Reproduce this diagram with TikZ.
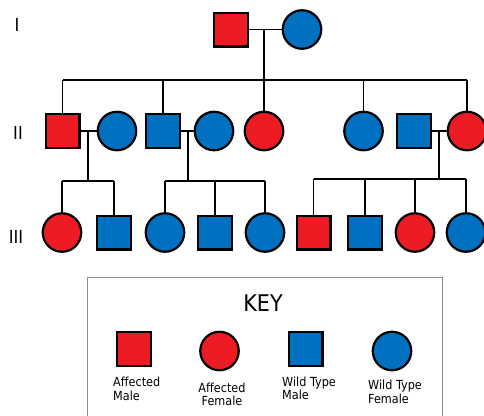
\documentclass[tikz,border=0pt]{standalone}
\usepackage{fontspec}
\setmainfont{DejaVu Sans}[FakeStretch=0.9]
\definecolor{affred}{RGB}{237,28,36}
\definecolor{wtblue}{RGB}{0,112,192}
\definecolor{keygray}{RGB}{140,140,140}
\begin{document}
\begin{tikzpicture}[x=1pt,y=-1pt,
  male/.style={rectangle,draw=black,line width=2.2pt,minimum size=33.8pt,inner sep=0pt},
  female/.style={circle,draw=black,line width=2.2pt,minimum size=38.5pt,inner sep=0pt},
  aff/.style={fill=affred},
  wt/.style={fill=wtblue},
  link/.style={line width=1.7pt,black},
  gen/.style={font=\fontsize{18}{20}\selectfont,anchor=base,inner sep=0pt},
  keylabel/.style={font=\fontsize{12.5}{13.5}\selectfont,inner sep=0pt}
]
\fill[white] (0,0) rectangle (484,415);
\useasboundingbox (0,0) rectangle (484,415);

% generation labels
\node[gen] (gI) at (17,31) {I};
\node[gen] (gII) at (18,139.5) {II};
\node[gen] (gIII) at (16,243.5) {III};

% generation I
\node[male,aff] (I1) at (231,29.5) {};
\node[female,wt] (I2) at (302,29.5) {};

% generation II
\node[male,aff] (II1) at (62.5,131) {};
\node[female,wt] (II2) at (117,131) {};
\node[male,wt] (II3) at (163,131) {};
\node[female,wt] (II4) at (214,131) {};
\node[female,aff] (II5) at (264,131) {};
\node[female,wt] (II6) at (363.5,131) {};
\node[male,wt] (II7) at (414,131) {};
\node[female,aff] (II8) at (467,131) {};

% generation III
\node[female,aff] (III1) at (62,232.5) {};
\node[male,wt] (III2) at (114,232.5) {};
\node[female,wt] (III3) at (165,232.5) {};
\node[male,wt] (III4) at (215,232.5) {};
\node[female,wt] (III5) at (265,232.5) {};
\node[male,aff] (III6) at (313.5,232.5) {};
\node[male,wt] (III7) at (365,232.5) {};
\node[female,aff] (III8) at (415,232.5) {};
\node[female,wt] (III9) at (466,232.5) {};

% family I
\draw[link] (I1) -- (I2);
\coordinate (m1) at (264,29.5);
\coordinate (s1) at (264,80);
\coordinate (s1a) at (62.5,80);
\coordinate (s1b) at (163,80);
\coordinate (s1d) at (363.5,80);
\coordinate (s1e) at (467,80);
\draw[link] (m1) -- (s1);
\draw[link] (s1a) -- (s1e);
\draw[link] (s1a) -- (II1);
\draw[link] (s1b) -- (II3);
\draw[link] (s1) -- (II5);
\draw[link] (s1d) -- (II6);
\draw[link] (s1e) -- (II8);

% family II1 x II2
\draw[link] (II1) -- (II2);
\coordinate (m2) at (88,131);
\coordinate (s2) at (88,181);
\coordinate (s2a) at (62,181);
\coordinate (s2b) at (114,181);
\draw[link] (m2) -- (s2);
\draw[link] (s2a) -- (s2b);
\draw[link] (s2a) -- (III1);
\draw[link] (s2b) -- (III2);

% family II3 x II4
\draw[link] (II3) -- (II4);
\coordinate (m3) at (188,131);
\coordinate (s3) at (188,181);
\coordinate (s3a) at (165,181);
\coordinate (s3b) at (215,181);
\coordinate (s3c) at (265,181);
\draw[link] (m3) -- (s3);
\draw[link] (s3a) -- (s3c);
\draw[link] (s3a) -- (III3);
\draw[link] (s3b) -- (III4);
\draw[link] (s3c) -- (III5);

% family II7 x II8
\draw[link] (II7) -- (II8);
\coordinate (m4) at (439,131);
\coordinate (s4) at (439,179);
\coordinate (s4a) at (313.5,179);
\coordinate (s4b) at (365,179);
\coordinate (s4c) at (415,179);
\coordinate (s4d) at (466,179);
\draw[link] (m4) -- (s4);
\draw[link] (s4a) -- (s4d);
\draw[link] (s4a) -- (III6);
\draw[link] (s4b) -- (III7);
\draw[link] (s4c) -- (III8);
\draw[link] (s4d) -- (III9);

% key
\node[draw=keygray,line width=1pt,anchor=north west,minimum width=355pt,minimum height=145pt,inner sep=0pt] (key) at (87,277) {};
\node[font=\fontsize{23}{26}\selectfont,anchor=base,inner sep=0pt] (keytitle) at (263,311.5) {KEY};
\node[male,aff] (k1) at (134,349) {};
\node[female,aff] (k2) at (219.5,351) {};
\node[male,wt] (k3) at (305.5,349) {};
\node[female,wt] (k4) at (392,351) {};
\node[keylabel,anchor=north west,align=left] (k1l) at (113,377) {Affected\\Male};
\node[keylabel,anchor=north,align=center] (k2l) at (222,382.5) {Affected\\Female};
\node[keylabel,anchor=north west,align=left] (k3l) at (282,376.5) {Wild Type\\Male};
\node[keylabel,anchor=north west,align=left] (k4l) at (368,380) {Wild Type\\Female};
\end{tikzpicture}
\end{document}
